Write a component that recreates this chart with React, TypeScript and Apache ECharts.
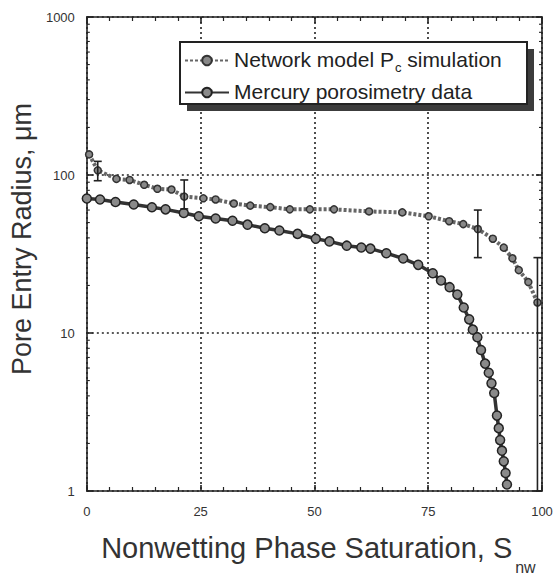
import React, { useEffect, useRef } from "react";
import * as echarts from "echarts";

const FONT = "'Liberation Sans', Arial, Helvetica, sans-serif";
const NET = "Network model Pc simulation";
const HG = "Mercury porosimetry data";

const xTicks = [0, 25, 50, 75, 100];
const yTicks = [1, 10, 100, 1000];
// minor ticks of the log axis (2..9 in each decade)
const yMinorTicks = [2, 3, 4, 5, 6, 7, 8, 9, 20, 30, 40, 50, 60, 70, 80, 90, 200, 300, 400, 500, 600, 700, 800, 900];

// Network model Pc simulation: [saturation %, radius µm]
const networkData: number[][] = [
  [0.5, 135], [2.4, 107], [6.5, 94.5], [9.4, 93], [12.6, 86.7], [15.5, 81.8],
  [18.6, 80.9], [21.4, 73], [25.6, 71.2], [28.3, 70], [32.3, 66], [35.9, 64],
  [40.3, 62.6], [44.6, 60.6], [49, 60.6], [54.3, 60.6], [62, 58.8], [69.3, 58],
  [75.1, 54.8], [79.6, 51], [82.7, 48.9], [85.9, 45.5], [89.2, 39.5], [91.6, 34.7],
  [93.5, 29.7], [94.9, 25], [97, 21], [99, 15.6],
];

// Error bars of the network model: [saturation, low, high]
const networkErr: number[][] = [
  [2.4, 92, 122],
  [21.4, 61, 93],
  [85.9, 30, 60],
  [99, 1, 30],
];

// Mercury porosimetry data: [saturation %, radius µm]
const mercuryData: number[][] = [
  [0, 71], [2.9, 70], [6.3, 67.5], [10.3, 65], [14.3, 62.5], [17.3, 60.6],
  [21.3, 57.5], [24.6, 54.8], [28.3, 53], [32, 51.3], [35.3, 48.5], [39.1, 46],
  [42.3, 44.5], [46.3, 42.4], [50.3, 39.5], [53.3, 38], [57.1, 35.7], [60.3, 34.8],
  [62.3, 34.2], [65.8, 32], [69.5, 29.6], [72.8, 27], [76, 23.9], [77.8, 21.5],
  [79.7, 19.5], [81.4, 17.5], [82.8, 14.5], [84, 12.2], [84.8, 10.5], [85.8, 9.4],
  [86.6, 7.8], [87.5, 6.4], [88.3, 5.6], [88.9, 4.8], [89.5, 4.17], [90.1, 3.0],
  [90.5, 2.5], [90.8, 2.1], [91.2, 1.8], [91.6, 1.54], [92, 1.3], [92.3, 1.1],
];

const INK = "#222";

export default function App() {
  const ref = useRef<HTMLDivElement>(null);
  useEffect(() => {
    if (!ref.current) return;
    const chart = echarts.init(ref.current, null, { renderer: "svg" });
    const axisLineStyle = { color: INK, width: 1.6 };
    const option: any = {
      animation: false,
      textStyle: { fontFamily: FONT },
      grid: { left: 81, right: 14, top: 17, bottom: 80 },
      graphic: [
        { type: "rect", z: 10, shape: { x: 187, y: 49, width: 347, height: 62 }, style: { fill: "#3c3c3c" } },
        { type: "rect", z: 11, shape: { x: 180, y: 42, width: 347, height: 62 }, style: { fill: "#fff", stroke: INK, lineWidth: 2 } },
      ],
      legend: {
        left: 184,
        top: 49,
        z: 20,
        orient: "vertical",
        itemWidth: 44,
        itemHeight: 12,
        itemGap: 7,
        padding: 0,
        data: [NET, HG],
        textStyle: {
          fontFamily: FONT,
          fontSize: 21,
          color: INK,
          rich: {
            a: { fontFamily: FONT, fontSize: 21, color: INK, lineHeight: 23, verticalAlign: "top" },
            s: { fontFamily: FONT, fontSize: 13, color: INK, lineHeight: 13, verticalAlign: "top", padding: [12, 0, 0, 1] },
          },
        },
        formatter: (name: string) =>
          name === NET ? "{a|Network model P}{s|c}{a| simulation}" : "{a|" + name + "}",
      },
      xAxis: [
        {
          type: "value",
          min: xTicks[0],
          max: xTicks[xTicks.length - 1],
          interval: 25,
          axisLine: { show: true, onZero: false, lineStyle: axisLineStyle },
          axisTick: { show: true, inside: true, length: 6, lineStyle: axisLineStyle },
          minorTick: { show: true, splitNumber: 5, length: 4, lineStyle: { color: INK, width: 1.2 } },
          splitLine: { show: true, lineStyle: { color: INK, width: 1.6, type: [2, 3] } },
          axisLabel: { fontFamily: FONT, fontSize: 13, color: "#333", margin: 14 },
          name: "{a|Nonwetting Phase Saturation, S}{s|nw}",
          nameLocation: "middle",
          nameGap: 42,
          nameTextStyle: {
            fontFamily: FONT,
            color: "#333",
            padding: [0, 0, 0, 8],
            rich: {
              a: { fontFamily: FONT, fontSize: 29, color: "#333", lineHeight: 31, verticalAlign: "top" },
              s: { fontFamily: FONT, fontSize: 16, color: "#333", lineHeight: 16, verticalAlign: "top", padding: [26, 0, 0, 3] },
            },
          },
        },
        {
          type: "value",
          position: "top",
          min: xTicks[0],
          max: xTicks[xTicks.length - 1],
          interval: 25,
          axisLine: { show: true, onZero: false, lineStyle: axisLineStyle },
          axisTick: { show: true, inside: true, length: 6, lineStyle: axisLineStyle },
          minorTick: { show: true, splitNumber: 5, length: 4, lineStyle: { color: INK, width: 1.2 } },
          splitLine: { show: false },
          axisLabel: { show: false },
        },
      ],
      yAxis: [
        {
          type: "log",
          logBase: 10,
          min: yTicks[0],
          max: yTicks[yTicks.length - 1],
          axisLine: { show: true, onZero: false, lineStyle: axisLineStyle },
          axisTick: { show: true, inside: true, length: 6, lineStyle: axisLineStyle },
          splitLine: { show: true, lineStyle: { color: INK, width: 1.6, type: [2, 3] } },
          axisLabel: { fontFamily: FONT, fontSize: 13, color: "#333", margin: 12, formatter: (v: number) => String(Math.round(v)) },
          name: "Pore Entry Radius, μm",
          nameLocation: "middle",
          nameRotate: 90,
          nameGap: 46,
          nameTextStyle: { fontFamily: FONT, fontSize: 27, color: "#333", padding: [0, 0, 0, 30] },
        },
        {
          type: "log",
          logBase: 10,
          position: "right",
          min: yTicks[0],
          max: yTicks[yTicks.length - 1],
          axisLine: { show: true, onZero: false, lineStyle: axisLineStyle },
          axisTick: { show: true, inside: true, length: 6, lineStyle: axisLineStyle },
          splitLine: { show: false },
          axisLabel: { show: false },
        },
      ],
      series: [
        {
          name: NET,
          type: "line",
          data: networkData,
          symbol: "circle",
          symbolSize: 7,
          lineStyle: { color: "#666", width: 4, type: [3, 2] },
          itemStyle: { color: "#888", borderColor: "#333", borderWidth: 1.5 },
          z: 3,
        },
        {
          name: HG,
          type: "line",
          data: mercuryData,
          symbol: "circle",
          symbolSize: 9,
          lineStyle: { color: "#333", width: 3.5 },
          itemStyle: { color: "#8a8a8a", borderColor: "#222", borderWidth: 1.5 },
          z: 4,
        },
        {
          name: "err",
          type: "custom",
          data: networkErr,
          encode: { x: 0, y: [1, 2] },
          z: 5,
          renderItem: (params: any, api: any) => {
            const x = api.value(0);
            const lo = api.coord([x, api.value(1)]);
            const hi = api.coord([x, api.value(2)]);
            const w = 4;
            const st = { stroke: "#222", lineWidth: 1.6 };
            return {
              type: "group",
              children: [
                { type: "line", shape: { x1: lo[0], y1: lo[1], x2: hi[0], y2: hi[1] }, style: st },
                { type: "line", shape: { x1: hi[0] - w, y1: hi[1], x2: hi[0] + w, y2: hi[1] }, style: st },
                { type: "line", shape: { x1: lo[0] - w, y1: lo[1], x2: lo[0] + w, y2: lo[1] }, style: st },
              ],
            };
          },
        },
        {
          name: "yMinor",
          type: "custom",
          data: yMinorTicks.map((v) => [0, v]),
          encode: { x: 0, y: 1 },
          z: 2,
          silent: true,
          renderItem: (params: any, api: any) => {
            const left = api.coord([xTicks[0], api.value(1)]);
            const right = api.coord([xTicks[xTicks.length - 1], api.value(1)]);
            const st = { stroke: INK, lineWidth: 1.1 };
            return {
              type: "group",
              children: [
                { type: "line", shape: { x1: left[0], y1: left[1], x2: left[0] + 3, y2: left[1] }, style: st },
                { type: "line", shape: { x1: right[0] - 3, y1: right[1], x2: right[0], y2: right[1] }, style: st },
              ],
            };
          },
        },
      ],
    };
    chart.setOption(option);
    return () => chart.dispose();
  }, []);
  return <div ref={ref} style={{ width: 556, height: 580, position: "absolute", left: 0, top: 0 }} />;
}
